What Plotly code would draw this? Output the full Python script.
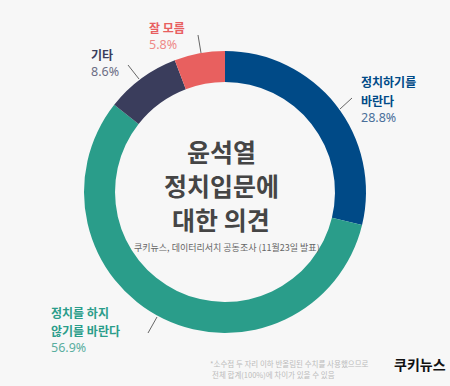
import plotly.graph_objects as go

labels = ["정치하기를 바란다", "정치를 하지 않기를 바란다", "기타", "잘 모름"]
values = [28.8, 56.9, 8.6, 5.8]
colors = ["#004A87", "#2A9D8A", "#3A3D5C", "#E8605F"]
pct_colors = ["#4A6F9A", "#5AAE9F", "#6B6D84", "#EE8A88"]
label_lines = [["정치하기를", "바란다"], ["정치를 하지", "않기를 바란다"], ["기타"], ["잘 모름"]]
title_lines = ["윤석열", "정치입문에", "대한 의견"]

W, H = 450, 386
FONT = "Noto Sans CJK KR"

fig = go.Figure()
fig.add_trace(go.Pie(
    labels=labels, values=values, hole=0.78, sort=False, direction="clockwise",
    rotation=0, marker=dict(colors=colors, line=dict(width=0)),
    textinfo="none", hoverinfo="label+percent", showlegend=False,
    domain=dict(x=[84 / W, 366 / W], y=[1 - 333 / H, 1 - 51 / H]),
))

def px(x):
    return x / W

def py(y):
    return 1 - y / H

annotations = []
# label block: left x, center y of first line (pixels)
label_pos = [(359, 82), (49, 312), (89, 54), (147, 27)]
line_pos = [((352, 98), (340, 109)), ((157, 317), (148, 333)), ((128, 65), (139, 79)), ((198, 35), (201, 53))]
STEP = 18
for i, (lx, ly) in enumerate(label_pos):
    y = ly
    for ln in label_lines[i]:
        annotations.append(dict(x=px(lx), y=py(y), xref="paper", yref="paper", xanchor="left", yanchor="middle",
                                text=f"<b>{ln}</b>", showarrow=False,
                                font=dict(family=FONT, size=12, color=colors[i])))
        y += STEP
    annotations.append(dict(x=px(lx), y=py(y - 0.5), xref="paper", yref="paper", xanchor="left", yanchor="middle",
                            text=f"{values[i]}%", showarrow=False,
                            font=dict(family="Noto Sans", size=12.5, color=pct_colors[i])))

shapes = []
for (x0, y0), (x1, y1) in line_pos:
    shapes.append(dict(type="line", xref="paper", yref="paper", x0=px(x0), y0=py(y0), x1=px(x1), y1=py(y1),
                       line=dict(color="#666666", width=1)))

# center title
for t, yc in zip(title_lines, [151, 185, 219]):
    annotations.append(dict(x=px(221), y=py(yc), xref="paper", yref="paper", xanchor="center", yanchor="middle",
                            text=f"<b>{t}</b>", showarrow=False,
                            font=dict(family=FONT, size=25, color="#454545")))
annotations.append(dict(x=px(227), y=py(248), xref="paper", yref="paper", xanchor="center", yanchor="middle",
                        text="쿠키뉴스, 데이터리서치 공동조사 (11월23일 발표)", showarrow=False,
                        font=dict(family=FONT, size=9, color="#666666")))

# footnote
annotations.append(dict(x=px(208), y=py(363), xref="paper", yref="paper", xanchor="left", yanchor="middle",
                        text="*소수점 두 자리 이하 반올림된 수치를 사용했으므로",
                        showarrow=False, font=dict(family=FONT, size=7.5, color="#BBBBBB")))
annotations.append(dict(x=px(210), y=py(374), xref="paper", yref="paper", xanchor="left", yanchor="middle",
                        text="전체 합계(100%)에 차이가 있을 수 있음",
                        showarrow=False, font=dict(family=FONT, size=7.5, color="#BBBBBB")))
# logo
annotations.append(dict(x=px(392), y=py(364), xref="paper", yref="paper", xanchor="left", yanchor="middle",
                        text="<b>쿠키뉴스</b>", showarrow=False,
                        font=dict(family=FONT, size=14, color="#111111")))

fig.update_layout(
    width=W, height=H, margin=dict(l=0, r=0, t=0, b=0),
    paper_bgcolor="#F7F7F7", plot_bgcolor="#F7F7F7",
    annotations=annotations, shapes=shapes,
)
fig.write_html("out.html")
